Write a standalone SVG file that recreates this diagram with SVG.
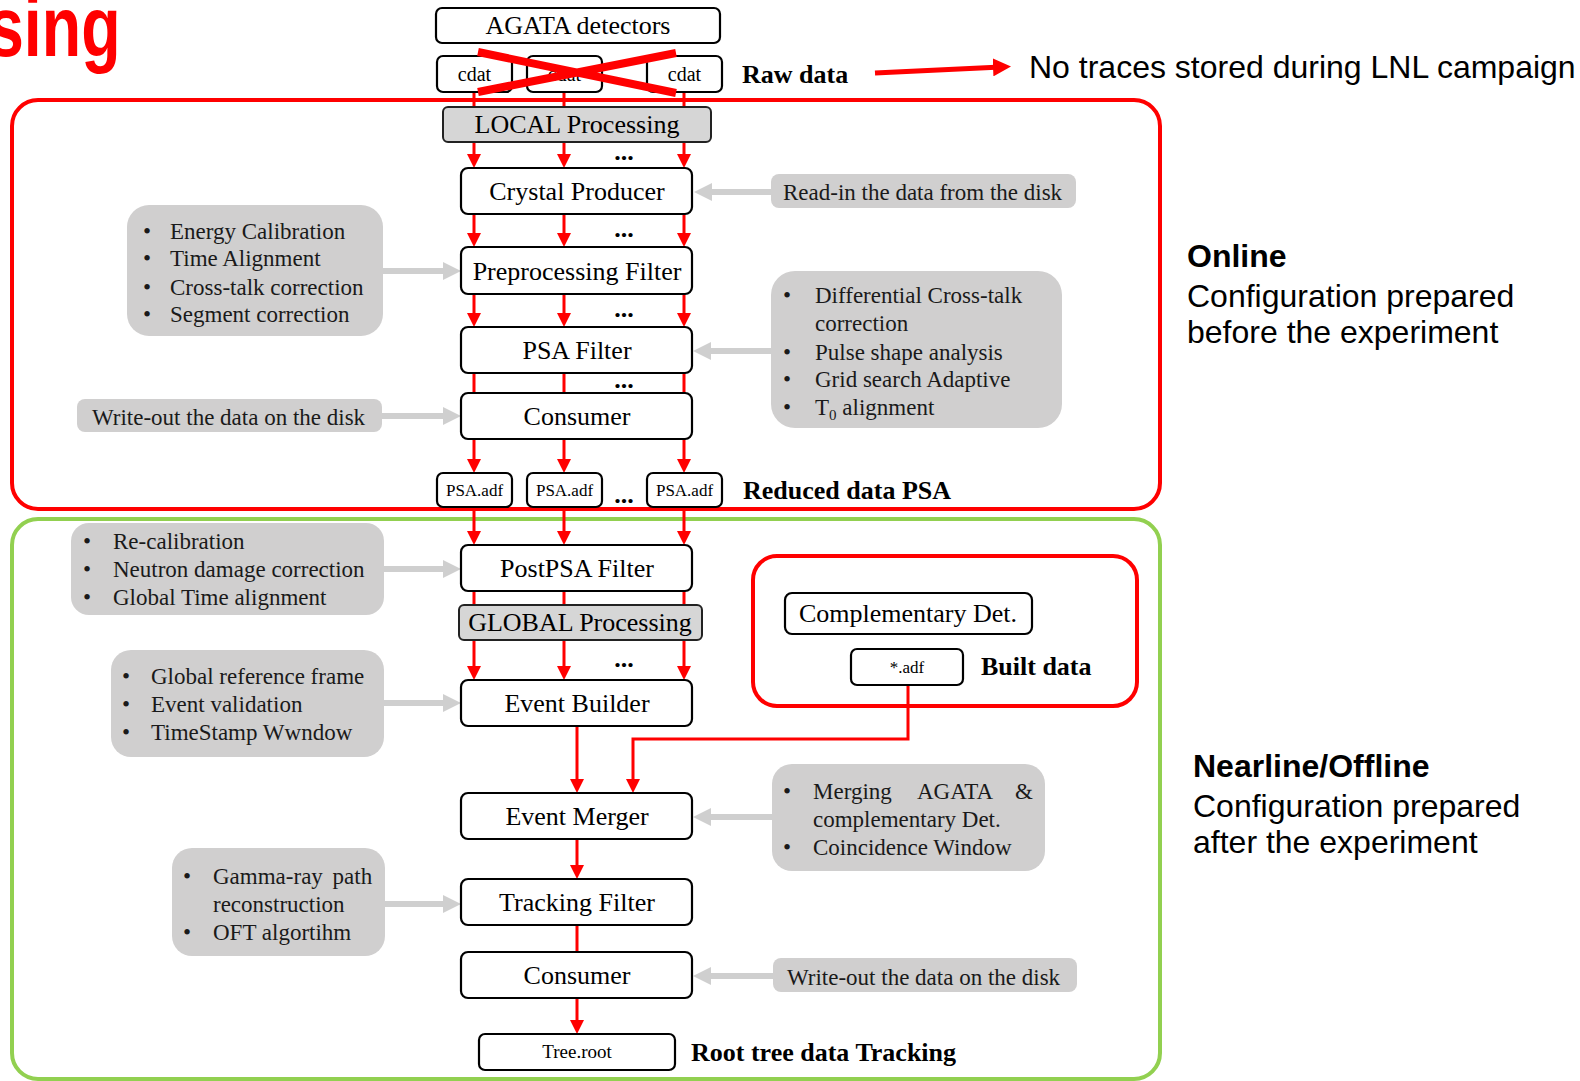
<svg xmlns="http://www.w3.org/2000/svg" width="1580" height="1081" viewBox="0 0 1580 1081">
<defs>
<style>
.node{fill:#fff;stroke:#000;stroke-width:2.2}
.proc{fill:#d6d6d6;stroke:#222;stroke-width:2}
.gbox{fill:#d0cfcf}
.nt{font-family:"Liberation Serif","Times New Roman",serif;font-size:26px;fill:#000;text-anchor:middle}
.st{font-family:"Liberation Serif","Times New Roman",serif;fill:#000;text-anchor:middle}
.gt{font-family:"Liberation Serif","Times New Roman",serif;font-size:23px;fill:#1a1a1a}
.lbl{font-family:"Liberation Serif","Times New Roman",serif;font-size:26px;font-weight:bold;fill:#000}
.dots{font-family:"Liberation Serif","Times New Roman",serif;font-size:26px;font-weight:bold;fill:#000;text-anchor:middle}
.ar{font-family:"Liberation Sans",Arial,sans-serif;font-size:32px;fill:#000}
.rl{stroke:#ff0000;stroke-width:3;fill:none}
.rla{stroke:#ff0000;stroke-width:3;fill:none;marker-end:url(#ra)}
.gl{stroke:#cfcfcf;stroke-width:6;fill:none;marker-end:url(#ga)}
</style>
<marker id="ra" markerUnits="userSpaceOnUse" markerWidth="14" markerHeight="14" refX="10" refY="7" orient="auto"><path d="M0,0 L14,7 L0,14 Z" fill="#ff0000"/></marker>
<marker id="ga" markerUnits="userSpaceOnUse" markerWidth="18" markerHeight="18" refX="8" refY="9" orient="auto"><path d="M0,0 L18,9 L0,18 Z" fill="#cfcfcf"/></marker>
<marker id="rb" markerUnits="userSpaceOnUse" markerWidth="18" markerHeight="18" refX="8" refY="9" orient="auto"><path d="M0,0 L18,9 L0,18 Z" fill="#ff0000"/></marker>
</defs>
<rect width="1580" height="1081" fill="#fff"/>

<text x="-16" y="56" transform="scale(0.75,1)" font-family="'Liberation Sans',Arial,sans-serif" font-size="86" font-weight="bold" fill="#ff0000">sing</text>

<g id="region-online"><rect x="12" y="100" width="1148" height="409" rx="26" fill="none" stroke="#ff0000" stroke-width="4"/></g>
<g id="region-nearline"><rect x="12" y="519" width="1148" height="560" rx="26" fill="none" stroke="#92d050" stroke-width="4"/></g>
<g id="region-complementary"><rect x="753" y="556" width="384" height="150" rx="24" fill="none" stroke="#ff0000" stroke-width="4"/></g>

<g id="connectors">
<path class="rl" d="M474,92V107M564,92V107M684,92V107"/>
<path class="rla" d="M474,142V164"/><path class="rla" d="M564,142V164"/><path class="rla" d="M684,142V164"/>
<path class="rla" d="M474,214V243"/><path class="rla" d="M564,214V243"/><path class="rla" d="M684,214V243"/>
<path class="rla" d="M474,294V323"/><path class="rla" d="M564,294V323"/><path class="rla" d="M684,294V323"/>
<path class="rl" d="M474,373V393M564,373V393M684,373V393"/>
<path class="rla" d="M474,439V469"/><path class="rla" d="M564,439V469"/><path class="rla" d="M684,439V469"/>
<path class="rla" d="M474,507V541"/><path class="rla" d="M564,507V541"/><path class="rla" d="M684,507V541"/>
<path class="rl" d="M474,591V605M564,591V605M684,591V605"/>
<path class="rla" d="M474,640V676"/><path class="rla" d="M564,640V676"/><path class="rla" d="M684,640V676"/>
<path class="rla" d="M577,726V789"/>
<path class="rla" d="M908,685V739H633V789"/>
<path class="rla" d="M577,839V875"/>
<path class="rl" d="M577,925V952"/>
<path class="rla" d="M577,998V1030"/>
<path stroke="#ff0000" stroke-width="5" fill="none" marker-end="url(#rb)" d="M875,73L1001,67"/>
<path class="gl" d="M771,192H704"/>
<path class="gl" d="M383,271H451"/>
<path class="gl" d="M771,351H703"/>
<path class="gl" d="M382,416H451"/>
<path class="gl" d="M384,569H451"/>
<path class="gl" d="M384,703H451"/>
<path class="gl" d="M772,817H703"/>
<path class="gl" d="M385,904H451"/>
<path class="gl" d="M773,976H703"/>
</g>

<g id="n-agata"><rect class="node" x="436" y="8" width="284" height="35" rx="6"/><text class="nt" x="578" y="34">AGATA detectors</text></g>
<g id="n-cdat1"><rect class="node" x="437" y="56" width="75" height="36" rx="6"/><text class="st" x="474.5" y="81" font-size="20">cdat</text></g>
<g id="n-cdat2"><rect class="node" x="527" y="56" width="75" height="36" rx="6"/><text class="st" x="564.5" y="81" font-size="20">cdat</text></g>
<g id="n-cdat3"><rect class="node" x="647" y="56" width="75" height="36" rx="6"/><text class="st" x="684.5" y="81" font-size="20">cdat</text></g>
<g id="cross"><path d="M478,52L676,93M478,92L676,53" stroke="#ff0000" stroke-width="8" fill="none"/></g>
<text class="lbl" x="742" y="83">Raw data</text>
<text class="ar" x="1029" y="78">No traces stored during LNL campaign</text>

<g id="n-local"><rect class="proc" x="443" y="107" width="268" height="35" rx="5"/><text class="nt" x="577" y="133">LOCAL Processing</text></g>
<g id="n-crystal"><rect class="node" x="461" y="168" width="231" height="46" rx="7"/><text class="nt" x="577" y="200">Crystal Producer</text></g>
<g id="n-preproc"><rect class="node" x="461" y="247" width="231" height="47" rx="7"/><text class="nt" x="577" y="280">Preprocessing Filter</text></g>
<g id="n-psa"><rect class="node" x="461" y="327" width="231" height="46" rx="7"/><text class="nt" x="577" y="359">PSA Filter</text></g>
<g id="n-consumer1"><rect class="node" x="461" y="393" width="231" height="46" rx="7"/><text class="nt" x="577" y="425">Consumer</text></g>
<g id="n-psaadf1"><rect class="node" x="437" y="473" width="75" height="34" rx="6"/><text class="st" x="474.5" y="496" font-size="17">PSA.adf</text></g>
<g id="n-psaadf2"><rect class="node" x="527" y="473" width="75" height="34" rx="6"/><text class="st" x="564.5" y="496" font-size="17">PSA.adf</text></g>
<g id="n-psaadf3"><rect class="node" x="647" y="473" width="75" height="34" rx="6"/><text class="st" x="684.5" y="496" font-size="17">PSA.adf</text></g>
<text class="lbl" x="743" y="499">Reduced data PSA</text>

<text class="dots" x="624" y="160">...</text>
<text class="dots" x="624" y="237">...</text>
<text class="dots" x="624" y="317">...</text>
<text class="dots" x="624" y="388">...</text>
<text class="dots" x="624" y="503" font-size="30">...</text>
<text class="dots" x="624" y="667">...</text>

<g id="n-postpsa"><rect class="node" x="461" y="545" width="231" height="46" rx="7"/><text class="nt" x="577" y="577">PostPSA Filter</text></g>
<g id="n-global"><rect class="proc" x="459" y="605" width="243" height="35" rx="5"/><text class="nt" x="580" y="631">GLOBAL Processing</text></g>
<g id="n-eventbuilder"><rect class="node" x="461" y="680" width="231" height="46" rx="7"/><text class="nt" x="577" y="712">Event Builder</text></g>
<g id="n-eventmerger"><rect class="node" x="461" y="793" width="231" height="46" rx="7"/><text class="nt" x="577" y="825">Event Merger</text></g>
<g id="n-tracking"><rect class="node" x="461" y="879" width="231" height="46" rx="7"/><text class="nt" x="577" y="911">Tracking Filter</text></g>
<g id="n-consumer2"><rect class="node" x="461" y="952" width="231" height="46" rx="7"/><text class="nt" x="577" y="984">Consumer</text></g>
<g id="n-tree"><rect class="node" x="479" y="1034" width="196" height="36" rx="6"/><text class="st" x="577" y="1058" font-size="19">Tree.root</text></g>
<text class="lbl" x="691" y="1061">Root tree data Tracking</text>

<g id="n-compdet"><rect class="node" x="785" y="593" width="247" height="41" rx="7"/><text class="nt" x="908" y="622">Complementary Det.</text></g>
<g id="n-adf"><rect class="node" x="851" y="649" width="112" height="36" rx="6"/><text class="st" x="907" y="673" font-size="17">*.adf</text></g>
<text class="lbl" x="981" y="675">Built data</text>

<g id="g-readin"><rect class="gbox" x="771" y="174" width="305" height="34" rx="8"/><text class="gt" x="783" y="200">Read-in the data from the disk</text></g>
<g id="g-energy"><rect class="gbox" x="127" y="205" width="256" height="131" rx="22"/>
<text class="gt" x="143" y="239">•</text><text class="gt" x="170" y="239">Energy Calibration</text>
<text class="gt" x="143" y="266">•</text><text class="gt" x="170" y="266">Time Alignment</text>
<text class="gt" x="143" y="295">•</text><text class="gt" x="170" y="295">Cross-talk correction</text>
<text class="gt" x="143" y="322">•</text><text class="gt" x="170" y="322">Segment correction</text></g>
<g id="g-diff"><rect class="gbox" x="771" y="271" width="291" height="157" rx="24"/>
<text class="gt" x="783" y="303">•</text><text class="gt" x="815" y="303">Differential Cross-talk</text>
<text class="gt" x="815" y="331">correction</text>
<text class="gt" x="783" y="360">•</text><text class="gt" x="815" y="360">Pulse shape analysis</text>
<text class="gt" x="783" y="387">•</text><text class="gt" x="815" y="387">Grid search Adaptive</text>
<text class="gt" x="783" y="415">•</text><text class="gt" x="815" y="415">T<tspan font-size="15" dy="5">0</tspan><tspan dy="-5"> alignment</tspan></text></g>
<g id="g-writeout1"><rect class="gbox" x="77" y="399" width="305" height="33" rx="8"/><text class="gt" x="92" y="425">Write-out the data on the disk</text></g>
<g id="g-recal"><rect class="gbox" x="71" y="523" width="313" height="92" rx="18"/>
<text class="gt" x="83" y="549">•</text><text class="gt" x="113" y="549">Re-calibration</text>
<text class="gt" x="83" y="577">•</text><text class="gt" x="113" y="577">Neutron damage correction</text>
<text class="gt" x="83" y="605">•</text><text class="gt" x="113" y="605">Global Time alignment</text></g>
<g id="g-globalref"><rect class="gbox" x="111" y="650" width="273" height="107" rx="20"/>
<text class="gt" x="122" y="684">•</text><text class="gt" x="151" y="684">Global reference frame</text>
<text class="gt" x="122" y="712">•</text><text class="gt" x="151" y="712">Event validation</text>
<text class="gt" x="122" y="740">•</text><text class="gt" x="151" y="740">TimeStamp Wwndow</text></g>
<g id="g-merging"><rect class="gbox" x="772" y="764" width="273" height="107" rx="20"/>
<text class="gt" x="783" y="799">•</text><text class="gt" y="799"><tspan x="813">Merging</tspan><tspan x="917">AGATA</tspan><tspan x="1015">&amp;</tspan></text>
<text class="gt" x="813" y="827">complementary Det.</text>
<text class="gt" x="783" y="855">•</text><text class="gt" x="813" y="855">Coincidence Window</text></g>
<g id="g-gamma"><rect class="gbox" x="172" y="848" width="213" height="108" rx="20"/>
<text class="gt" x="183" y="884">•</text><text class="gt" x="213" y="884" word-spacing="4">Gamma-ray path</text>
<text class="gt" x="213" y="912">reconstruction</text>
<text class="gt" x="183" y="940">•</text><text class="gt" x="213" y="940">OFT algortihm</text></g>
<g id="g-writeout2"><rect class="gbox" x="773" y="958" width="304" height="34" rx="8"/><text class="gt" x="787" y="985">Write-out the data on the disk</text></g>

<g id="desc-online">
<text class="ar" x="1187" y="267" font-weight="bold" fill="#ff0000">Online</text>
<text class="ar" x="1187" y="307">Configuration prepared</text>
<text class="ar" x="1187" y="343">before the experiment</text>
</g>
<g id="desc-nearline">
<text class="ar" x="1193" y="777" font-weight="bold" fill="#92d050">Nearline/Offline</text>
<text class="ar" x="1193" y="817">Configuration prepared</text>
<text class="ar" x="1193" y="853">after the experiment</text>
</g>
</svg>
